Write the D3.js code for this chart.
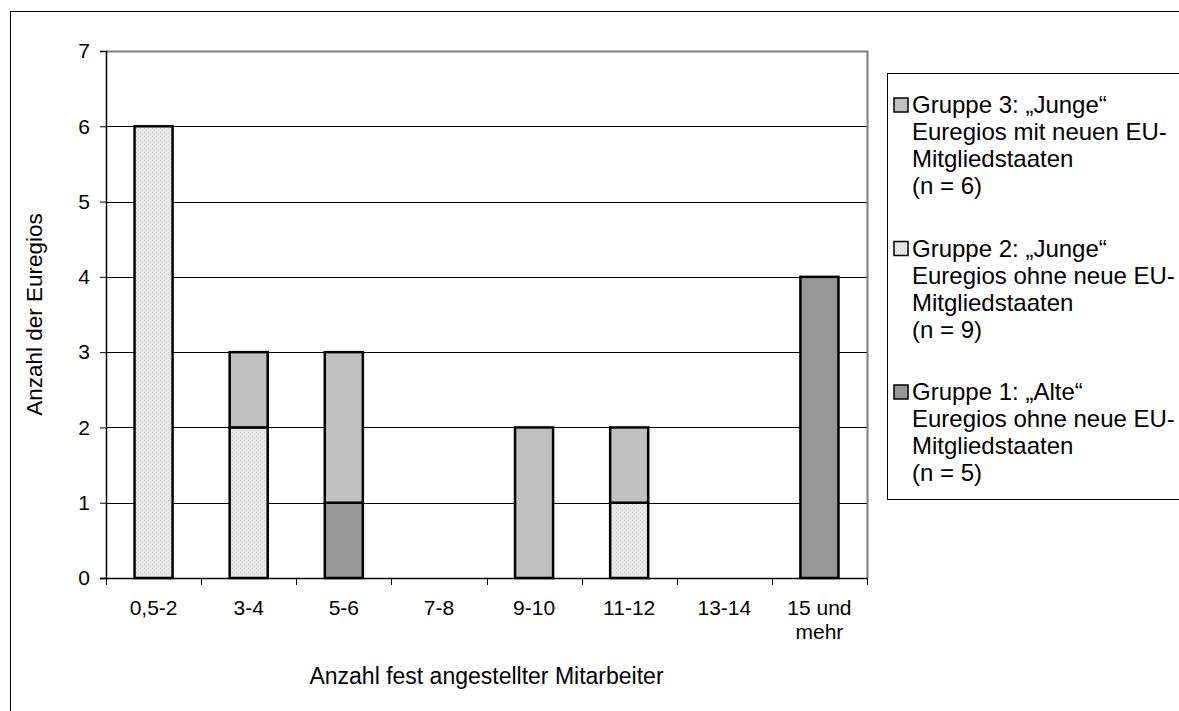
<!DOCTYPE html>
<html lang="de">
<head>
<meta charset="UTF-8">
<script src="https://cdn.jsdelivr.net/npm/d3@7/dist/d3.min.js"></script>
<style>
    body{margin:0;background:#fff;}
    text{font-family:"Liberation Sans",Arial,sans-serif;fill:#000;}
</style>
<title>Anzahl fest angestellter Mitarbeiter</title>
</head>
<body>
<svg id="chart"></svg>
<script>
    // Daten
    var categories=["0,5-2","3-4","5-6","7-8","9-10","11-12","13-14","15 und mehr"];
    var gruppe1=[0,0,1,0,0,0,0,4];   // "Alte" Euregios
    var gruppe2=[6,2,0,0,0,1,0,0];   // "Junge" ohne neue EU-Staaten
    var gruppe3=[0,1,2,0,2,1,0,0];   // "Junge" mit neuen EU-Staaten
    var yTicks=[0,1,2,3,4,5,6,7];
    var legendLines=[
        ["Gruppe 3: \u201EJunge\u201C","Euregios mit neuen EU-","Mitgliedstaaten","(n = 6)"],
        ["Gruppe 2: \u201EJunge\u201C","Euregios ohne neue EU-","Mitgliedstaaten","(n = 9)"],
        ["Gruppe 1: \u201EAlte\u201C","Euregios ohne neue EU-","Mitgliedstaaten","(n = 5)"]
    ];

    var width=1179,height=711;
    var svg=d3.select("#chart").attr("width",width).attr("height",height);

    // Muster fuer Gruppe 2
    var defs=svg.append("defs");
    var pat=defs.append("pattern").attr("id","dots")
        .attr("patternUnits","userSpaceOnUse").attr("width",4).attr("height",4);
    pat.append("rect").attr("width",4).attr("height",4).attr("fill","#e6e6e6");
    pat.append("rect").attr("x",0).attr("y",0).attr("width",1).attr("height",1).attr("fill","#d2d2d2");
    pat.append("rect").attr("x",2).attr("y",2).attr("width",1).attr("height",1).attr("fill","#d8d8d8");

    var colors={g1:"#969696",g2:"url(#dots)",g3:"#c0c0c0"};

    // aeusserer Rahmen
    svg.append("rect")
        .attr("x",10.5).attr("y",11.5)
        .attr("width",width).attr("height",height)
        .attr("fill","#fff").attr("stroke","#000");

    var pLeft=106,pTop=51,pRight=867,pBottom=578;

    var x=d3.scaleBand().domain(categories).range([pLeft,pRight])
        .paddingInner(0.6).paddingOuter(0.3);
    var y=d3.scaleLinear().domain([0,7]).range([pBottom,pTop]);

    // Gitternetz
    svg.append("g").selectAll("line").data(yTicks.filter(function(d){return d>0&&d<7;}))
        .enter().append("line")
        .attr("x1",pLeft).attr("x2",pRight)
        .attr("y1",function(d){return Math.round(y(d))+0.5;})
        .attr("y2",function(d){return Math.round(y(d))+0.5;})
        .attr("stroke","#000").attr("stroke-width",1);

    // Plotrahmen oben / rechts
    svg.append("path")
        .attr("d","M"+pLeft+","+(pTop+0.5)+"H"+(pRight+0.5)+"V"+pBottom)
        .attr("fill","none").attr("stroke","#808080").attr("stroke-width",2);

    // gestapelte Daten
    var rows=categories.map(function(c,i){
        return {cat:c,g1:gruppe1[i],g2:gruppe2[i],g3:gruppe3[i]};
    });
    var stack=d3.stack().keys(["g1","g2","g3"]);
    var series=stack(rows);

    series.forEach(function(s){
        svg.append("g").selectAll("rect")
            .data(s.filter(function(d){return d[1]-d[0]>0;}))
            .enter().append("rect")
            .attr("x",function(d){return x(d.data.cat);})
            .attr("y",function(d){return y(d[1]);})
            .attr("width",x.bandwidth())
            .attr("height",function(d){return y(d[0])-y(d[1]);})
            .attr("fill",colors[s.key])
            .attr("stroke","#000").attr("stroke-width",2.5);
    });

    // Y-Achse
    var yAxis=d3.axisLeft(y).tickValues(yTicks).tickFormat(d3.format("d")).tickSize(6).tickPadding(10);
    var gy=svg.append("g").attr("transform","translate("+pLeft+",0)").call(yAxis);
    gy.select(".domain").attr("stroke","#000").attr("stroke-width",1.5);
    gy.selectAll(".tick line").attr("stroke","#000");
    gy.selectAll("text").style("font-size","21px").attr("fill","#000");

    // X-Achse, Striche zwischen den Kategorien
    svg.append("line").attr("x1",pLeft-6).attr("x2",pRight+1)
        .attr("y1",pBottom+0.5).attr("y2",pBottom+0.5)
        .attr("stroke","#000").attr("stroke-width",1.5);
    var step=x.step();
    var xt=d3.range(categories.length+1).map(function(i){return x(categories[0])-x.step()*x.paddingInner()/2+i*step;});
    svg.append("g").selectAll("line").data(xt).enter().append("line")
        .attr("x1",function(d){return Math.round(d)+0.5;})
        .attr("x2",function(d){return Math.round(d)+0.5;})
        .attr("y1",pBottom).attr("y2",pBottom+7)
        .attr("stroke","#000");

    var xl=svg.append("g").selectAll("text").data(categories).enter().append("text")
        .attr("x",function(d){return x(d)+x.bandwidth()/2;})
        .attr("y",615)
        .attr("text-anchor","middle")
        .style("font-size","21px");
    xl.each(function(d){
        var parts=d=="15 und mehr"?["15 und","mehr"]:[d];
        var t=d3.select(this);
        parts.forEach(function(p,i){
            t.append("tspan").attr("x",x(d)+x.bandwidth()/2).attr("dy",i==0?0:24).text(p);
        });
    });

    // Achsentitel
    svg.append("text").attr("x",(pLeft+pRight)/2).attr("y",684)
        .attr("text-anchor","middle").style("font-size","23px")
        .text("Anzahl fest angestellter Mitarbeiter");
    svg.append("text")
        .attr("transform","translate(42,"+((pTop+pBottom)/2)+") rotate(-90)")
        .attr("text-anchor","middle").style("font-size","22.5px")
        .text("Anzahl der Euregios");

    // Legende
    svg.append("rect").attr("x",887.5).attr("y",73.5)
        .attr("width",400).attr("height",426)
        .attr("fill","#fff").attr("stroke","#000");
    var legendFill=[colors.g3,colors.g2,colors.g1];
    legendLines.forEach(function(lines,i){
        var y0=105+i*143.5;
        svg.append("rect").attr("x",894).attr("y",y0-7).attr("width",14).attr("height",14)
            .attr("fill",legendFill[i]).attr("stroke","#000").attr("stroke-width",1.5);
        var t=svg.append("text").attr("x",912).attr("y",y0+8).style("font-size","24px");
        lines.forEach(function(l,j){
            t.append("tspan").attr("x",912).attr("dy",j==0?0:27).text(l);
        });
    });
</script>
</body>
</html>
